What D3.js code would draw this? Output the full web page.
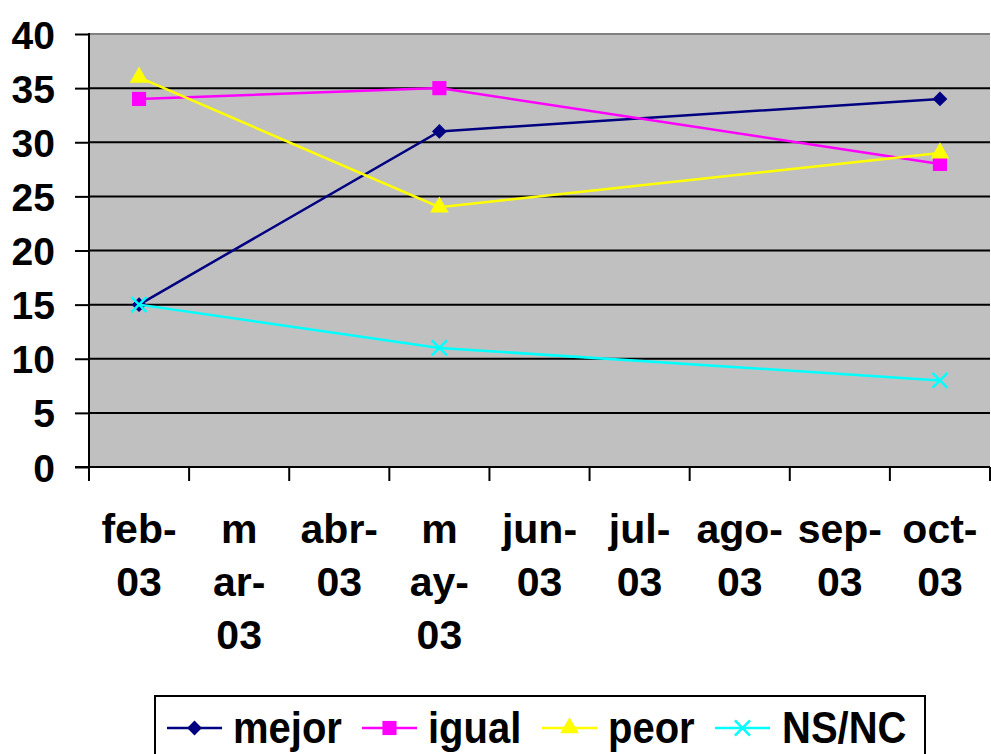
<!DOCTYPE html>
<html>
<head>
<meta charset="utf-8">
<script src="https://cdn.jsdelivr.net/npm/d3@7"></script>
<style>
  body { margin: 0; background: #fff; }
  svg { display: block; font-family: "Liberation Sans", Arial, sans-serif; font-weight: bold; }
</style>
</head>
<body>
<div class="vis"></div>
<script>
const months = ['feb-03', 'mar-03', 'abr-03', 'may-03', 'jun-03', 'jul-03', 'ago-03', 'sep-03', 'oct-03']
// how Excel wrapped each label
const monthLines = [['feb-', '03'], ['m', 'ar-', '03'], ['abr-', '03'], ['m', 'ay-', '03'], ['jun-', '03'],
                    ['jul-', '03'], ['ago-', '03'], ['sep-', '03'], ['oct-', '03']]
const mejor = [15, null, null, 31, null, null, null, null, 34]
const igual = [34, null, null, 35, null, null, null, null, 28]
const peor  = [36, null, null, 24, null, null, null, null, 29]
const nsnc  = [15, null, null, 11, null, null, null, null, 8]
const yTicks = [0, 5, 10, 15, 20, 25, 30, 35, 40]

const w = 991
const h = 754
const plotL = 89, plotR = 990, plotT = 34, plotB = 467

const svg = d3.select('.vis').append('svg')
    .attr('width', w)
    .attr('height', h)

const xScale = d3.scaleBand().domain(months).range([plotL, plotR])
const yScale = d3.scaleLinear().domain([0, 40]).range([plotB, plotT])

// fondo gris
svg.append('rect')
    .attr('x', plotL).attr('y', plotT)
    .attr('width', plotR - plotL).attr('height', plotB - plotT)
    .attr('fill', '#c0c0c0')

// lineas de la grilla
svg.selectAll('.grid')
    .data(yTicks.filter(d => d > 0 && d < 40))
    .enter().append('line')
    .attr('x1', plotL).attr('x2', plotR)
    .attr('y1', d => yScale(d)).attr('y2', d => yScale(d))
    .attr('stroke', '#000').attr('stroke-width', 2)

svg.append('line')
    .attr('x1', plotL).attr('x2', plotR)
    .attr('y1', plotT).attr('y2', plotT)
    .attr('stroke', '#808080').attr('stroke-width', 2)

// eje y
const yAxis = d3.axisLeft(yScale).tickValues(yTicks).tickSize(14).tickPadding(20)
const gy = svg.append('g').attr('transform', 'translate(' + plotL + ',0)').call(yAxis)
gy.select('.domain').remove()
gy.selectAll('.tick line').attr('stroke', '#000').attr('stroke-width', 2)
gy.selectAll('.tick text').attr('font-size', 39).attr('font-family', null).attr('fill', '#000').attr('dy', '0.36em')
gy.append('line').attr('x1', 0).attr('x2', 0).attr('y1', plotT - 1).attr('y2', plotB)
    .attr('stroke', '#000').attr('stroke-width', 2)

// eje x
const xTickPos = months.map(m => xScale(m)).concat([plotR])
svg.selectAll('.xtick')
    .data(xTickPos)
    .enter().append('line')
    .attr('x1', d => d).attr('x2', d => d)
    .attr('y1', plotB).attr('y2', plotB + 14)
    .attr('stroke', '#000').attr('stroke-width', 2)
svg.append('line').attr('x1', plotL - 14).attr('x2', plotR).attr('y1', plotB).attr('y2', plotB)
    .attr('stroke', '#000').attr('stroke-width', 2)

months.forEach((m, i) => {
    const t = svg.append('text')
        .attr('x', xScale(m) + xScale.bandwidth() / 2)
        .attr('y', 543)
        .attr('text-anchor', 'middle')
        .attr('font-size', 41)
    monthLines[i].forEach((s, j) => {
        t.append('tspan').attr('x', xScale(m) + xScale.bandwidth() / 2)
            .attr('dy', j == 0 ? 0 : 53).text(s)
    })
})

// series
const series = [
    { name: 'mejor', values: mejor, color: '#000080', marker: d3.symbolSquare, size: 110, rot: 45 },
    { name: 'igual', values: igual, color: '#ff00ff', marker: d3.symbolSquare, size: 200, rot: 0 },
    { name: 'peor', values: peor, color: '#ffff00', marker: d3.symbolTriangle, size: 150, rot: 0 },
    { name: 'NS/NC', values: nsnc, color: '#00ffff', marker: d3.symbolTimes, size: 150, rot: 0 }
]
const cx = (i) => xScale(months[i]) + xScale.bandwidth() / 2

const line = d3.line().x(d => cx(d.i)).y(d => yScale(d.v))

function drawMarker(sel, s) {
    sel.attr('d', d3.symbol().type(s.marker).size(s.size))
        .attr('fill', s.marker == d3.symbolTimes ? 'none' : s.color)
        .attr('stroke', s.color)
        .attr('stroke-width', s.marker == d3.symbolTimes ? 2.5 : 0)
}

series.forEach(s => {
    const pts = s.values.map((v, i) => ({ v: v, i: i })).filter(d => d.v != null)
    svg.append('path')
        .datum(pts)
        .attr('d', line)
        .attr('fill', 'none')
        .attr('stroke', s.color)
        .attr('stroke-width', 2.5)
    svg.selectAll(null)
        .data(pts)
        .enter().append('path')
        .attr('transform', d => 'translate(' + cx(d.i) + ',' + yScale(d.v) + ') rotate(' + s.rot + ')')
        .call(drawMarker, s)
})

// leyenda
svg.append('rect')
    .attr('x', 155).attr('y', 696)
    .attr('width', 770).attr('height', 70)
    .attr('fill', '#fff').attr('stroke', '#000').attr('stroke-width', 2)

const legendX = [167, 362, 542, 715]
const legendTextX = [233, 428, 608, 782]
series.forEach((s, i) => {
    const x0 = legendX[i]
    svg.append('line').attr('x1', x0).attr('x2', x0 + 55).attr('y1', 728).attr('y2', 728)
        .attr('stroke', s.color).attr('stroke-width', 2.5)
    svg.append('path')
        .attr('transform', 'translate(' + (x0 + 27.5) + ',728) rotate(' + s.rot + ')')
        .call(drawMarker, s)
    svg.append('text')
        .attr('transform', 'translate(' + legendTextX[i] + ',743) scale(1,1.12)')
        .attr('font-size', 40)
        .text(s.name)
})
</script>
</body>
</html>
